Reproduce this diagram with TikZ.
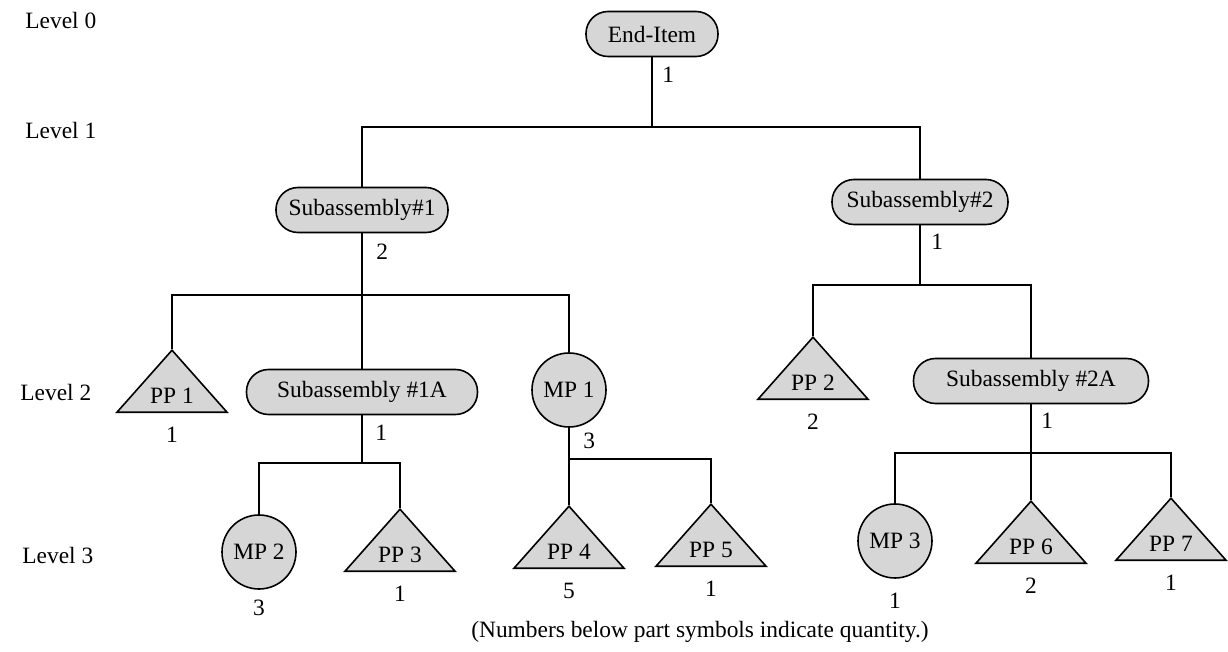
\documentclass[tikz,border=0pt]{standalone}
\usepackage{fontspec}
\setmainfont{Liberation Serif}
\usepackage{tikz}
\usetikzlibrary{shapes.geometric,positioning,calc}
\definecolor{partgray}{RGB}{214,214,214}

\begin{document}
\begin{tikzpicture}[
      x=0.5pt, y=-0.5pt,
      font=\fontsize{11.7}{14}\selectfont,
      node distance=6pt,
      assy/.style={rectangle, draw=black, fill=partgray, line width=0.8pt,
                   rounded corners=11pt, minimum height=22.5pt, inner sep=2pt},
      made/.style={circle, draw=black, fill=partgray, line width=0.8pt,
                   minimum size=37pt, inner sep=0pt},
      bought/.style={isosceles triangle, shape border rotate=90,
                     isosceles triangle apex angle=83, isosceles triangle stretches,
                     minimum width=55pt, minimum height=31pt,
                     draw=black, fill=partgray, line width=0.8pt, inner sep=1pt},
      qty/.style={inner sep=1pt},
      level/.style={anchor=west, inner sep=0pt},
      link/.style={line width=0.7pt}
    ]
      \useasboundingbox (0,0) rectangle (1228,652);
      %% level labels
      \node[level] (lv0) at (25,20)  {Level 0};
      \node[level] (lv1) at (25,130) {Level 1};
      \node[level] (lv2) at (20,392) {Level 2};
      \node[level] (lv3) at (22,555) {Level 3};
      %% parts
      \node[assy, minimum width=66pt] (enditem) at (652,34) {End-Item};
      \node[assy, minimum width=86pt] (sub1) at (362,210) {Subassembly\#1};
      \node[assy, minimum width=88pt] (sub2) at (920,202) {Subassembly\#2};
      \node[bought, anchor=apex] (pp1) at (172,349) {PP 1};
      \node[assy, minimum width=115.5pt] (sub1a) at (362,392) {Subassembly \#1A};
      \node[made] (mp1) at (569,390) {MP 1};
      \node[bought, anchor=apex] (pp2) at (813,336) {PP 2};
      \node[assy, minimum width=117.5pt] (sub2a) at (1031,381) {Subassembly \#2A};
      \node[made] (mp2) at (259,552) {MP 2};
      \node[bought, anchor=apex] (pp3) at (400,508) {PP 3};
      \node[bought, anchor=apex] (pp4) at (569,505) {PP 4};
      \node[bought, anchor=apex] (pp5) at (711,503) {PP 5};
      \node[made] (mp3) at (895,541) {MP 3};
      \node[bought, anchor=apex] (pp6) at (1031,500) {PP 6};
      \node[bought, anchor=apex] (pp7) at (1171,497) {PP 7};
      %% branch points
      \coordinate (bus0)   at (652,127);
      \coordinate (bus1)   at (362,295);
      \coordinate (bus2)   at (920,285);
      \coordinate (bus1a)  at (362,463);
      \coordinate (busmp1) at (569,459);
      \coordinate (bus2a)  at (1031,453);
      %% tree
      \draw[link] (enditem) -- (bus0);
      \draw[link] (sub1) |- (bus0) -| (sub2);
      \draw[link] (sub1) -- (sub1a);
      \draw[link] (pp1.apex) |- (bus1) -| (mp1);
      \draw[link] (sub2) -- (bus2);
      \draw[link] (pp2.apex) |- (bus2) -| (sub2a);
      \draw[link] (sub1a) -- (bus1a);
      \draw[link] (mp2) |- (bus1a) -| (pp3.apex);
      \draw[link] (mp1) -- (pp4.apex);
      \draw[link] (busmp1) -| (pp5.apex);
      \draw[link] (sub2a) -- (pp6.apex);
      \draw[link] (mp3) |- (bus2a) -| (pp7.apex);
      %% quantities beside the stems
      \node[qty, below right=3.5pt and 4pt of enditem.south] (q0) {1};
      \node[qty, below right=4pt and 6pt of sub1.south] (q1) {2};
      \node[qty, below right=3pt and 4.5pt of sub2.south] (q2) {1};
      \node[qty, below right=3.5pt and 5.5pt of sub1a.south] (q1a) {1};
      \node[qty, below right=1.5pt and 6pt of mp1.south] (qmp1) {3};
      \node[qty, below right=3pt and 4pt of sub2a.south] (q2a) {1};
      %% quantities under the symbols
      \node[qty, below=of pp1] (qpp1) {1};
      \node[qty, below=of pp2] (qpp2) {2};
      \node[qty, below=4pt of mp2] (qmp2) {3};
      \node[qty, below=of pp3] (qpp3) {1};
      \node[qty, below=of pp4] (qpp4) {5};
      \node[qty, below=of pp5] (qpp5) {1};
      \node[qty, below=of mp3] (qmp3) {1};
      \node[qty, below=of pp6] (qpp6) {2};
      \node[qty, below=of pp7] (qpp7) {1};
      \node (note) at (700,632) {(Numbers below part symbols indicate quantity.)};
    \end{tikzpicture}
\end{document}
